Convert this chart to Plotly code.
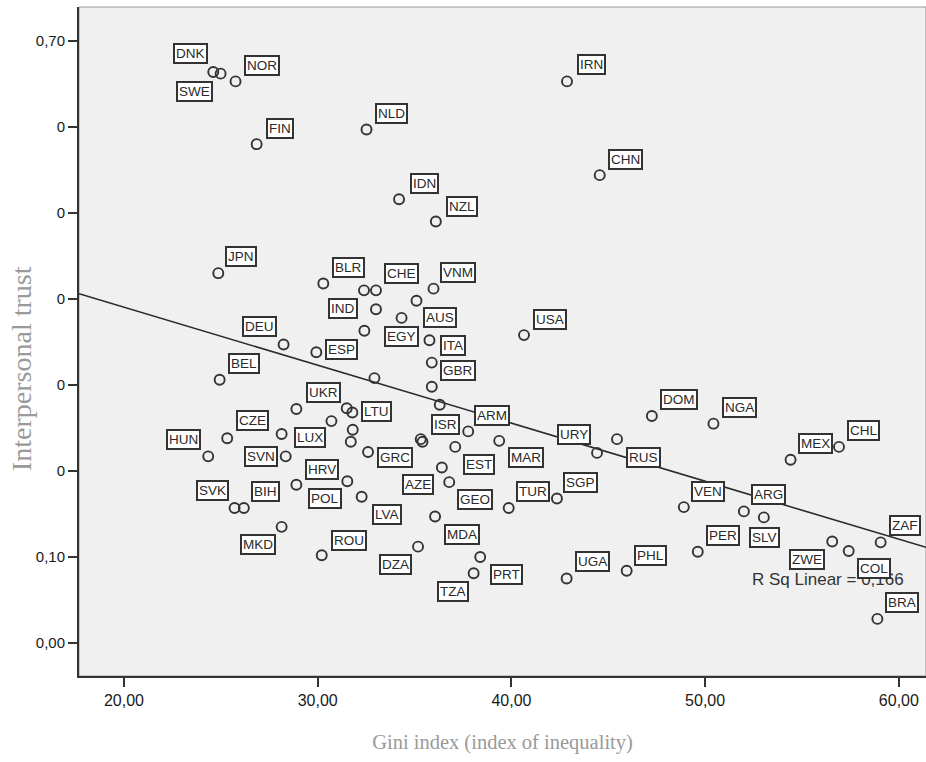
import numpy as np
import plotly.graph_objects as go

# ---- data ----
countries = ["DNK","SWE","NOR","FIN","NLD","IRN","CHN","IDN","NZL","JPN","BLR","CHE","VNM",
             "IND","AUS","EGY","ITA","GBR","DEU","ESP","BEL","USA","UKR","LTU","ISR","ARM",
             "CZE","HUN","LUX","SVN","EST","MAR","GRC","AZE","GEO","HRV","POL","SVK","BIH",
             "LVA","TUR","SGP","URY","RUS","DOM","NGA","MEX","CHL","VEN","ARG","SLV","PER",
             "ZWE","COL","ZAF","BRA","MDA","MKD","ROU","DZA","PRT","TZA","UGA","PHL",
             "","","","","","","","","",""]
gini = [24.61,24.99,25.76,26.85,32.52,42.87,44.56,34.20,36.10,24.87,30.29,33.01,35.98,
        32.41,35.10,34.33,35.77,35.89,28.24,29.93,24.94,40.65,28.90,31.79,36.30,37.77,
        25.33,24.35,28.14,28.35,37.10,39.37,32.60,36.41,36.79,31.53,28.90,25.71,26.19,
        32.27,39.86,42.35,44.42,45.45,47.25,50.43,54.41,56.91,48.90,52.00,53.03,49.62,
        56.56,57.41,59.06,58.89,36.06,28.14,30.21,35.18,38.39,38.05,42.85,45.95,
        32.39,33.01,35.89,32.93,31.50,30.71,31.81,31.71,35.32,35.41]
trust = [0.664,0.662,0.653,0.580,0.597,0.653,0.544,0.516,0.490,0.430,0.418,0.410,0.412,
         0.363,0.398,0.378,0.352,0.326,0.347,0.338,0.306,0.358,0.272,0.268,0.277,0.246,
         0.238,0.217,0.243,0.217,0.228,0.235,0.222,0.204,0.187,0.188,0.184,0.157,0.157,
         0.170,0.157,0.168,0.221,0.237,0.264,0.255,0.213,0.228,0.158,0.153,0.146,0.106,
         0.118,0.107,0.117,0.028,0.147,0.135,0.102,0.112,0.100,0.081,0.075,0.084,
         0.410,0.388,0.298,0.308,0.273,0.258,0.248,0.234,0.237,0.234]

x_ticks = [20, 30, 40, 50, 60]
x_ticktext = ["20,00", "30,00", "40,00", "50,00", "60,00"]
y_ticks = [0.0, 0.1, 0.2, 0.3, 0.4, 0.5, 0.6, 0.7]
y_ticktext = ["0,00", "0,10", "0", "0", "0", "0", "0", "0,70"]
r_sq_text = "R Sq Linear = 0,166"
x_title = "Gini index (index of inequality)"
y_title = "Interpersonal trust"

# ---- label placement offsets in pixels (dx right, dy down) ----
label_offsets = {
    "DNK": (-23, -18), "SWE": (-26, 18), "NOR": (26, -16), "FIN": (23, -16), "NLD": (25, -16),
    "IRN": (24, -17), "CHN": (26, -16), "IDN": (25, -16), "NZL": (26, -15), "JPN": (23, -17),
    "BLR": (25, -16), "CHE": (26, -17), "VNM": (24, -16), "IND": (-21, -22), "AUS": (24, 17),
    "EGY": (0, 19), "ITA": (24, 5), "GBR": (26, 8), "DEU": (-24, -18), "ESP": (25, -3),
    "BEL": (24, -16), "USA": (26, -16), "UKR": (27, -17), "LTU": (24, -1), "ISR": (6, 20),
    "ARM": (24, -16), "CZE": (25, -18), "HUN": (-25, -17), "LUX": (28, 4), "SVN": (-25, 0),
    "EST": (24, 18), "MAR": (27, 17), "GRC": (27, 5), "AZE": (-24, 17), "GEO": (26, 17),
    "HRV": (-25, -12), "POL": (29, 14), "SVK": (-22, -17), "BIH": (22, -16), "LVA": (25, 18),
    "TUR": (24, -16), "SGP": (24, -16), "URY": (-23, -18), "RUS": (26, 18), "DOM": (27, -16),
    "NGA": (26, -16), "MEX": (25, -16), "CHL": (24, -16), "VEN": (24, -16), "ARG": (25, -17),
    "SLV": (1, 20), "PER": (25, -16), "ZWE": (-25, 18), "COL": (25, 18), "ZAF": (24, -17),
    "BRA": (25, -16), "MDA": (27, 18), "MKD": (-24, 18), "ROU": (27, -15), "DZA": (-23, 18),
    "PRT": (26, 18), "TZA": (-21, 18), "UGA": (26, -17), "PHL": (24, -15),
}

x_range = [17.68, 61.40]
y_range = [-0.0384, 0.7395]

fig = go.Figure()

# regression line (least squares fit of the data)
slope, intercept = np.polyfit(np.array(gini), np.array(trust), 1)
xl = np.array(x_range)
fig.add_trace(go.Scatter(x=xl, y=intercept + slope * xl, mode="lines",
                         line=dict(color="#2a2a2a", width=1.6), hoverinfo="skip",
                         showlegend=False))

fig.add_trace(go.Scatter(x=gini, y=trust, mode="markers",
                         marker=dict(symbol="circle-open", size=10, color="#333333",
                                     line=dict(width=1.9, color="#333333")),
                         showlegend=False))

# R-squared text first so country labels are drawn above it (as in the reference)
annotations = [dict(x=0.8843, y=0.1435, xref="paper", yref="paper", text=r_sq_text,
                    xanchor="center", yanchor="middle", showarrow=False,
                    font=dict(family="Liberation Sans, Arial", size=17, color="#333333")),
               dict(x=-0.0673, y=0.4604, xref="paper", yref="paper", text=y_title,
                    textangle=-90, xanchor="center", yanchor="middle", showarrow=False,
                    font=dict(family="Liberation Serif, Times New Roman", size=28,
                              color="#9a9a9a"))]
for c, gx, ty in zip(countries, gini, trust):
    if not c:
        continue
    dx, dy = label_offsets[c]
    annotations.append(dict(x=gx, y=ty, xref="x", yref="y", text=c, showarrow=False,
                            xshift=dx, yshift=-dy,
                            font=dict(family="Liberation Sans, Arial", size=13.5, color="#2a2a2a"),
                            bgcolor="white", bordercolor="#333333", borderwidth=2, borderpad=1))

fig.update_layout(
    width=926, height=762,
    margin=dict(l=79, r=0, t=7, b=86),
    paper_bgcolor="white", plot_bgcolor="#f0f0f0",
    annotations=annotations,
    xaxis=dict(range=x_range, tickvals=x_ticks, ticktext=x_ticktext, showgrid=False,
               zeroline=False, showline=True, linecolor="#333333", linewidth=2,
               ticks="outside", ticklen=9, tickwidth=1.5, tickcolor="#333333",
               tickfont=dict(family="Liberation Sans, Arial", size=16, color="#1a1a1a"),
               title=dict(text=x_title, standoff=26,
                          font=dict(family="Liberation Serif, Times New Roman", size=20.5,
                                    color="#9a9a9a"))),
    yaxis=dict(range=y_range, tickvals=y_ticks, ticktext=y_ticktext, showgrid=False,
               zeroline=False, showline=True, linecolor="#333333", linewidth=2,
               ticks="outside", ticklen=9, tickwidth=1.5, tickcolor="#333333",
               tickfont=dict(family="Liberation Sans, Arial", size=15, color="#1a1a1a")),
    shapes=[dict(type="rect", xref="paper", yref="paper", x0=0, x1=1, y0=0, y1=1,
                 line=dict(color="#9a9a9a", width=1), layer="below")],
)

fig.write_html("out.html")
